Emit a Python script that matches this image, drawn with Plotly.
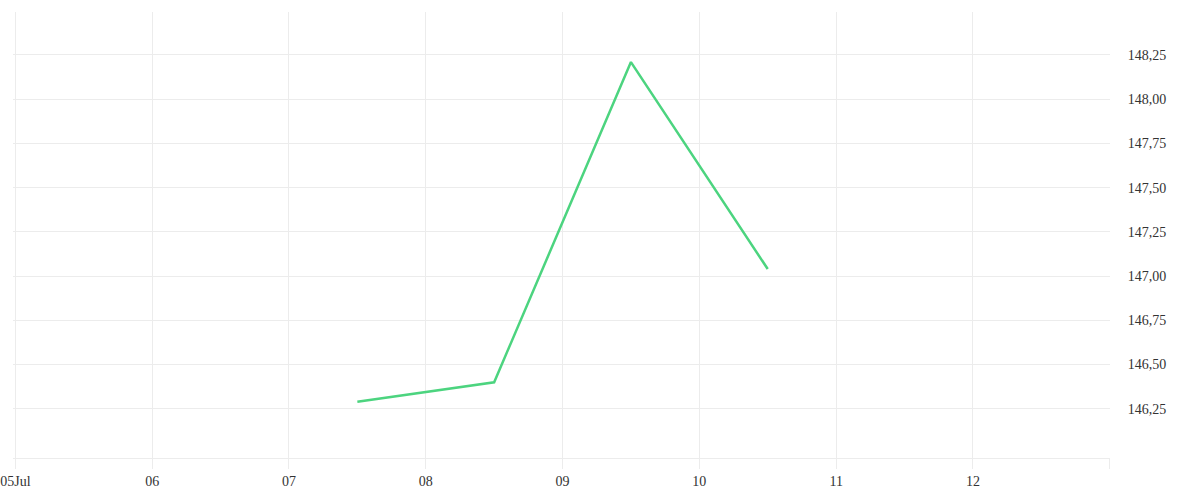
import plotly.graph_objects as go

dates = ["2024-07-07 12:00", "2024-07-08 12:00", "2024-07-09 12:00", "2024-07-10 12:00"]
values = [146.29, 146.40, 148.21, 147.04]

x_tick_vals = ["2024-07-05", "2024-07-06", "2024-07-07", "2024-07-08", "2024-07-09",
               "2024-07-10", "2024-07-11", "2024-07-12", "2024-07-13"]
x_tick_text = ["05Jul", "06", "07", "08", "09", "10", "11", "12", ""]
y_tick_vals = [146.25, 146.50, 146.75, 147.00, 147.25, 147.50, 147.75, 148.00, 148.25]

grid = "#ececec"

fig = go.Figure()
fig.add_trace(go.Scatter(
    x=dates, y=values, mode="lines",
    line=dict(color="#4cd47f", width=2.5),
    hoverinfo="x+y", showlegend=False,
))

fig.update_layout(
    width=1200, height=500,
    margin=dict(l=12.6, r=89.7, t=12, b=42, autoexpand=False),
    paper_bgcolor="white", plot_bgcolor="white",
    separators=",.",
    font=dict(family="Liberation Serif, serif", size=14, color="#333333"),
    xaxis=dict(
        type="date", automargin=False,
        range=["2024-07-04 23:35", "2024-07-13 00:03"],
        tickmode="array", tickvals=x_tick_vals, ticktext=x_tick_text,
        showgrid=True, gridcolor=grid, gridwidth=1,
        ticks="outside", ticklen=10, tickcolor=grid, tickwidth=1,
        showline=True, linecolor=grid, linewidth=1,
        zeroline=False, tickfont=dict(size=14, color="#333333"),
        ticklabeloverflow="allow",
    ),
    yaxis=dict(
        side="right", automargin=False,
        range=[145.972, 148.493],
        tickmode="array", tickvals=y_tick_vals, tickformat=".2f",
        showgrid=True, gridcolor=grid, gridwidth=1,
        ticks="outside", ticklen=14, tickcolor="rgba(0,0,0,0)",
        showline=False, zeroline=False,
        tickfont=dict(size=14, color="#333333"),
    ),
)

fig.write_html("out.html", config={"displayModeBar": False},
               post_script="document.body.style.margin='0';")
